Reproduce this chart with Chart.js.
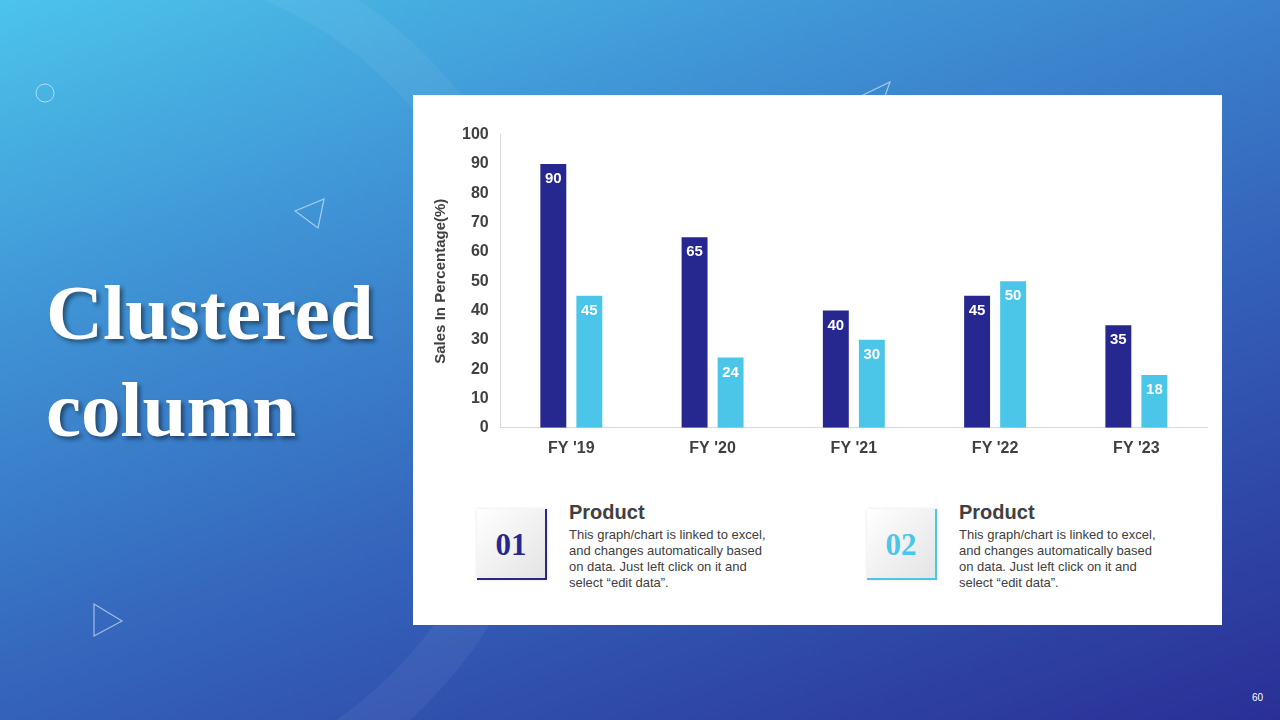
<!DOCTYPE html>
<html>
<head>
<meta charset="utf-8">
<script src="https://cdn.jsdelivr.net/npm/chart.js@4.4.1/dist/chart.umd.min.js"></script>
<style>
  html, body { margin: 0; padding: 0; }
  body {
    width: 1280px; height: 720px; overflow: hidden; position: relative;
    background: linear-gradient(160deg, #4cc4ea 0%, #3f93d5 28%, #3462ba 60%, #2a2f96 100%);
    font-family: Arial, "Liberation Sans", sans-serif;
  }
  .ring {
    position: absolute; left: -360px; top: -80px; width: 920px; height: 920px;
    border-radius: 50%; border: 46px solid rgba(255,255,255,0.05); box-sizing: border-box;
  }
  .deco { position: absolute; }
  .title {
    position: absolute; left: 46px; top: 264px; margin: 0;
    font-family: "Liberation Serif", "Times New Roman", serif; font-weight: bold;
    font-size: 79px; line-height: 97px; color: #fff;
    text-shadow: 3px 3px 4px rgba(0,0,0,0.45);
  }
  .panel {
    position: absolute; left: 413px; top: 95px; width: 809px; height: 530px; background: #fff;
  }
  .chartbox { position: absolute; left: 19px; top: 18px; width: 779px; height: 356px; }
  .card { position: absolute; top: 414px; }
  .num {
    position: absolute; left: 0; top: 0; width: 68px; height: 69px;
    background: linear-gradient(135deg, #ffffff 0%, #e4e4e4 100%);
    box-shadow: 0 0 3px rgba(0,0,0,0.12);
    font-family: "Liberation Serif", "Times New Roman", serif; font-weight: bold;
    font-size: 31px; line-height: 72px; text-align: center;
  }
  .head { position: absolute; left: 92px; top: -8px; font-size: 20px; font-weight: bold; color: #404040; }
  .body { position: absolute; left: 92px; top: 18px; width: 205px; font-size: 13px; line-height: 16px; color: #404040; }
  .page { position: absolute; left: 1252px; top: 692px; font-size: 10px; color: #fff; }
</style>
</head>
<body>
<div class="ring"></div>
<svg class="deco" style="left:0;top:0" width="1280" height="720">
  <circle cx="45" cy="93" r="9" fill="none" stroke="rgba(255,255,255,0.55)" stroke-width="1"/>
  <polygon points="295,211 324,199 318,228" fill="none" stroke="rgba(255,255,255,0.55)" stroke-width="1.2"/>
  <polygon points="861,96 890,82 880,110" fill="none" stroke="rgba(255,255,255,0.55)" stroke-width="1.2"/>
  <polygon points="94,604 122,621 94,636" fill="none" stroke="rgba(255,255,255,0.55)" stroke-width="1.2"/>
</svg>
<h1 class="title">Clustered<br>column</h1>
<div class="panel">
  <div class="chartbox"><canvas id="salesChart"></canvas></div>
  <div class="card" style="left:64px">
    <div class="num" style="color:#262890;border-right:2px solid #262890;border-bottom:2px solid #262890">01</div>
    <div class="head">Product</div>
    <div class="body">This graph/chart is linked to excel, and changes automatically based on data. Just left click on it and select “edit data”.</div>
  </div>
  <div class="card" style="left:454px">
    <div class="num" style="color:#4bc6e8;border-right:2px solid #4bc6e8;border-bottom:2px solid #4bc6e8">02</div>
    <div class="head">Product</div>
    <div class="body">This graph/chart is linked to excel, and changes automatically based on data. Just left click on it and select “edit data”.</div>
  </div>
</div>
<div class="page">60</div>

<script>
// chart data
const years = ["FY '19", "FY '20", "FY '21", "FY '22", "FY '23"];
const product1 = [90, 65, 40, 45, 35];
const product2 = [45, 24, 30, 50, 18];
const yTicks = [0, 10, 20, 30, 40, 50, 60, 70, 80, 90, 100];

const fontFamily = "Arial, 'Liberation Sans', sans-serif";

// write each value in white near the top of its bar
const barValues = {
  id: "barValues",
  afterDatasetsDraw(chart) {
    const ctx = chart.ctx;
    ctx.save();
    ctx.font = "bold 15px " + fontFamily;
    ctx.fillStyle = "#ffffff";
    ctx.textAlign = "center";
    ctx.textBaseline = "middle";
    chart.data.datasets.forEach(function (ds, i) {
      chart.getDatasetMeta(i).data.forEach(function (bar, j) {
        ctx.fillText(ds.data[j], bar.x, bar.y + 15);
      });
    });
    ctx.restore();
  }
};

new Chart(document.getElementById("salesChart"), {
  type: "bar",
  data: {
    labels: years,
    datasets: [
      { label: "Product 01", data: product1, backgroundColor: "#262890",
        categoryPercentage: 0.51, barPercentage: 0.72 },
      { label: "Product 02", data: product2, backgroundColor: "#4bc6e8",
        categoryPercentage: 0.51, barPercentage: 0.72 }
    ]
  },
  options: {
    responsive: true,
    maintainAspectRatio: false,
    animation: false,
    layout: { padding: { top: 8, right: 4 } },
    plugins: {
      legend: { display: false },
      tooltip: { enabled: false }
    },
    scales: {
      x: {
        grid: { display: false, drawTicks: false },
        border: { display: true, color: "#d9d9d9", width: 1 },
        ticks: { color: "#404040", padding: 11,
          font: { size: 16, weight: "bold", family: fontFamily } }
      },
      y: {
        min: 0,
        max: 100,
        afterBuildTicks: function (axis) {
          axis.ticks = yTicks.map(v => ({ value: v }));
        },
        grid: { display: false, drawTicks: false },
        border: { display: true, color: "#d9d9d9", width: 1 },
        ticks: { color: "#404040", padding: 12,
          font: { size: 16, weight: "bold", family: fontFamily } },
        title: { display: true, text: "Sales In Percentage(%)", color: "#404040",
          padding: { top: 0, bottom: 0 },
          font: { size: 15, weight: "bold", family: fontFamily } }
      }
    }
  },
  plugins: [barValues]
});
</script>
</body>
</html>
